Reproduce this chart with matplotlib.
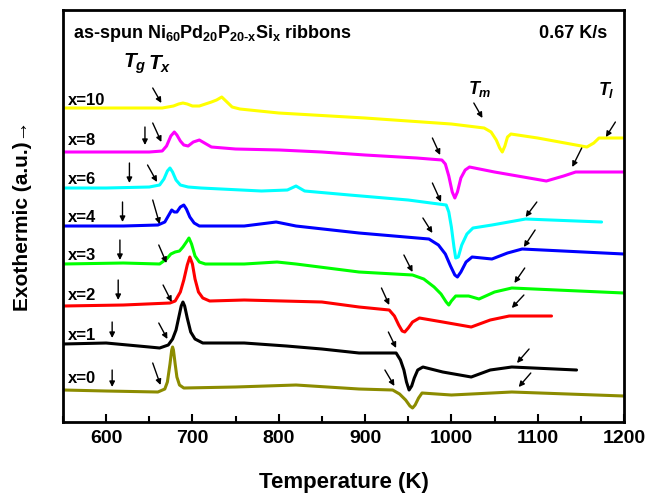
import matplotlib
matplotlib.use('Agg')
import matplotlib.pyplot as plt
from matplotlib import font_manager
import numpy as np

# font choice: narrow bold for axis texts if installed
names = set(f.name for f in font_manager.fontManager.ttflist)
narrow = 'Liberation Sans Narrow' if 'Liberation Sans Narrow' in names else 'Liberation Sans'

plt.rcParams['font.family'] = 'Liberation Sans'
plt.rcParams['font.weight'] = 'bold'
plt.rcParams['mathtext.fontset'] = 'custom'
plt.rcParams['mathtext.rm'] = 'Liberation Sans:bold'
plt.rcParams['mathtext.it'] = 'Liberation Sans:bold:italic'

# DSC traces (temperature in K, heat flow in arbitrary units with offsets)
T_x10 = [550, 640, 665, 678, 684, 689, 694, 700, 708, 715, 722, 728, 734, 740, 746, 755, 800, 900, 1000, 1038, 1046, 1052, 1056, 1059, 1062, 1065, 1069, 1100, 1157, 1165, 1171, 1200]
y_x10 = [314, 314, 314, 316, 318, 319, 318, 316, 316, 318, 320, 322, 325, 320, 315, 313, 309, 304, 298, 294, 290, 282, 274, 270, 276, 285, 288, 284, 275, 279, 284, 284]

T_x8 = [550, 600, 650, 665, 670, 675, 679, 682, 686, 690, 695, 701, 708, 714, 722, 750, 801, 850, 900, 960, 989, 993, 997, 1001, 1004, 1007, 1011, 1016, 1021, 1050, 1110, 1130, 1144, 1200]
y_x8 = [270, 270, 270, 271, 276, 286, 290, 287, 281, 277, 276, 280, 282, 279, 275, 273, 272, 270, 267, 264, 262, 258, 246, 230, 224, 230, 244, 252, 255, 250, 241, 246, 250, 250]

T_x6 = [550, 600, 650, 662, 667, 671, 674, 677, 681, 686, 695, 710, 780, 810, 820, 830, 882, 950, 994, 997, 1000, 1003, 1005, 1008, 1012, 1018, 1025, 1047, 1086, 1174]
y_x6 = [234, 234, 235, 237, 243, 251, 254, 250, 242, 237, 235, 234, 231, 232, 236, 231, 227, 222, 217, 210, 195, 175, 164, 165, 177, 188, 194, 197, 203, 200]

T_x4 = [550, 620, 660, 668, 672, 676, 679, 682, 686, 690, 693, 697, 702, 708, 760, 797, 820, 893, 974, 985, 993, 999, 1004, 1007, 1011, 1017, 1024, 1047, 1065, 1082, 1200]
y_x4 = [196, 196, 197, 200, 206, 212, 210, 210, 215, 217, 213, 205, 199, 196, 196, 200, 196, 189, 183, 177, 168, 156, 147, 145, 150, 160, 165, 163, 169, 173, 168]

T_x3 = [550, 620, 662, 670, 675, 680, 685, 689, 693, 696, 699, 703, 708, 715, 760, 798, 820, 893, 955, 968, 980, 988, 994, 997, 1000, 1005, 1020, 1032, 1050, 1070, 1200]
y_x3 = [158, 159, 158, 163, 168, 170, 171, 175, 180, 184, 178, 166, 160, 158, 158, 160, 158, 150, 147, 143, 135, 128, 120, 117, 121, 126, 126, 123, 130, 134, 129]

T_x2 = [550, 620, 674, 680, 686, 690, 694, 697, 700, 703, 707, 712, 720, 760, 850, 893, 928, 934, 939, 943, 946, 950, 955, 963, 990, 1023, 1045, 1067, 1116]
y_x2 = [116, 117, 119, 121, 130, 142, 157, 165, 158, 143, 130, 124, 121, 122, 120, 115, 112, 106, 97, 91, 90, 94, 100, 104, 100, 95, 102, 106, 106]

T_x1 = [550, 600, 650, 662, 672, 677, 681, 684, 687, 689, 691, 694, 698, 703, 712, 760, 809, 850, 893, 936, 941, 945, 948, 951, 954, 957, 961, 967, 990, 1023, 1045, 1070, 1145]
y_x1 = [78, 79, 75, 74, 77, 83, 92, 104, 116, 120, 116, 104, 90, 83, 79, 79, 76, 73, 69, 69, 62, 52, 40, 32, 36, 44, 52, 55, 50, 45, 52, 55, 52]

T_x0 = [550, 600, 660, 668, 671, 674, 676, 677, 678, 680, 682, 685, 690, 750, 820, 893, 932, 940, 947, 952, 955, 958, 962, 966, 1000, 1070, 1200]
y_x0 = [32, 31, 30, 33, 40, 58, 72, 75, 72, 58, 45, 37, 34, 35, 37, 33, 32, 28, 22, 16, 14, 17, 24, 29, 27, 30, 26]

series = [
    ('x=10', T_x10, y_x10, '#ffff00', 322),
    ('x=8', T_x8, y_x8, '#ff00ff', 282),
    ('x=6', T_x6, y_x6, '#00ffff', 243),
    ('x=4', T_x4, y_x4, '#0000ff', 205),
    ('x=3', T_x3, y_x3, '#00ff00', 167),
    ('x=2', T_x2, y_x2, '#ff0000', 127),
    ('x=1', T_x1, y_x1, '#000000', 87),
    ('x=0', T_x0, y_x0, '#8c8c00', 44),
]

# arrows marking Tg, Tx, Tm, Tl : (T_tail, y_tail, T_tip, y_tip)
arrows = [
    (654, 334, 664, 319), (1026, 319, 1036, 304), (1190, 300, 1179, 285),
    (645, 295, 645, 277), (654, 299, 664, 280), (978, 284, 987, 267), (1151, 274, 1140, 255),
    (627, 259, 627, 239), (648, 257, 659, 240), (978, 239, 988, 220), (1099, 220, 1086, 205),
    (619, 220, 619, 200), (654, 222, 662, 198), (967, 204, 978, 189), (1097, 192, 1084, 175),
    (616, 182, 616, 162), (661, 177, 670, 159), (945, 167, 955, 150), (1085, 154, 1073, 139),
    (614, 142, 614, 122), (666, 137, 676, 120), (919, 134, 928, 117), (1084, 127, 1070, 114),
    (607, 100, 607, 84), (661, 99, 671, 83), (927, 90, 936, 74), (1090, 73, 1076, 59),
    (607, 52, 607, 35), (654, 59, 663, 37), (923, 52, 934, 36), (1092, 49, 1078, 35),
]

fig = plt.figure(figsize=(6.49, 4.98), dpi=100)
ax = fig.add_axes([0.097, 0.1526, 0.8645, 0.8273])

for name, T, y, c, ly in series:
    ax.plot(T, y, color=c, lw=2.2, solid_capstyle='round', solid_joinstyle='round')
    ax.text(556, ly, name, fontsize=12, fontweight='bold', va='center', ha='left')

for t0, y0, t1, y1 in arrows:
    ax.annotate('', xy=(t1, y1), xytext=(t0, y0),
                arrowprops=dict(arrowstyle='-|>', color='k', lw=1.0, mutation_scale=8,
                                shrinkA=0, shrinkB=0))

ax.text(633, 358, r'$T_g$', fontsize=15, ha='center', va='center')
ax.text(662, 358, r'$T_x$', fontsize=15, ha='center', va='center')
ax.text(1033, 333, r'$T_m$', fontsize=13, ha='center', va='center')
ax.text(1179, 332, r'$T_l$', fontsize=13, ha='center', va='center')

ax.text(0.018, 0.944, r'as-spun Ni$_\mathrm{60}$Pd$_\mathrm{20}$P$_\mathrm{20\text{-}x}$Si$_\mathrm{x}$ ribbons',
        transform=ax.transAxes, fontsize=13, fontweight='bold', va='center', ha='left')
ax.text(0.97, 0.944, '0.67 K/s', transform=ax.transAxes, fontsize=13,
        fontweight='bold', va='center', ha='right')

ax.set_xlim(550, 1200)
ax.set_ylim(0, 412)
ax.set_xticks(np.arange(600, 1201, 100))
ax.set_xticks(np.arange(550, 1201, 50), minor=True)
ax.set_yticks([])
ax.tick_params(axis='x', which='major', direction='in', length=6, width=1.5, pad=6)
ax.tick_params(axis='x', which='minor', direction='in', length=4, width=1.5)
for lab in ax.get_xticklabels():
    lab.set_fontfamily(narrow)
    lab.set_fontsize(14)
    lab.set_fontweight('bold')
for s in ax.spines.values():
    s.set_linewidth(2)

ax.set_xlabel('Temperature (K)', fontfamily=narrow, fontsize=16, fontweight='bold', labelpad=18)
ax.set_ylabel('Exothermic (a.u.)→', fontfamily=narrow, fontsize=15, fontweight='bold', labelpad=22)

fig.savefig('out.png', dpi=100)
